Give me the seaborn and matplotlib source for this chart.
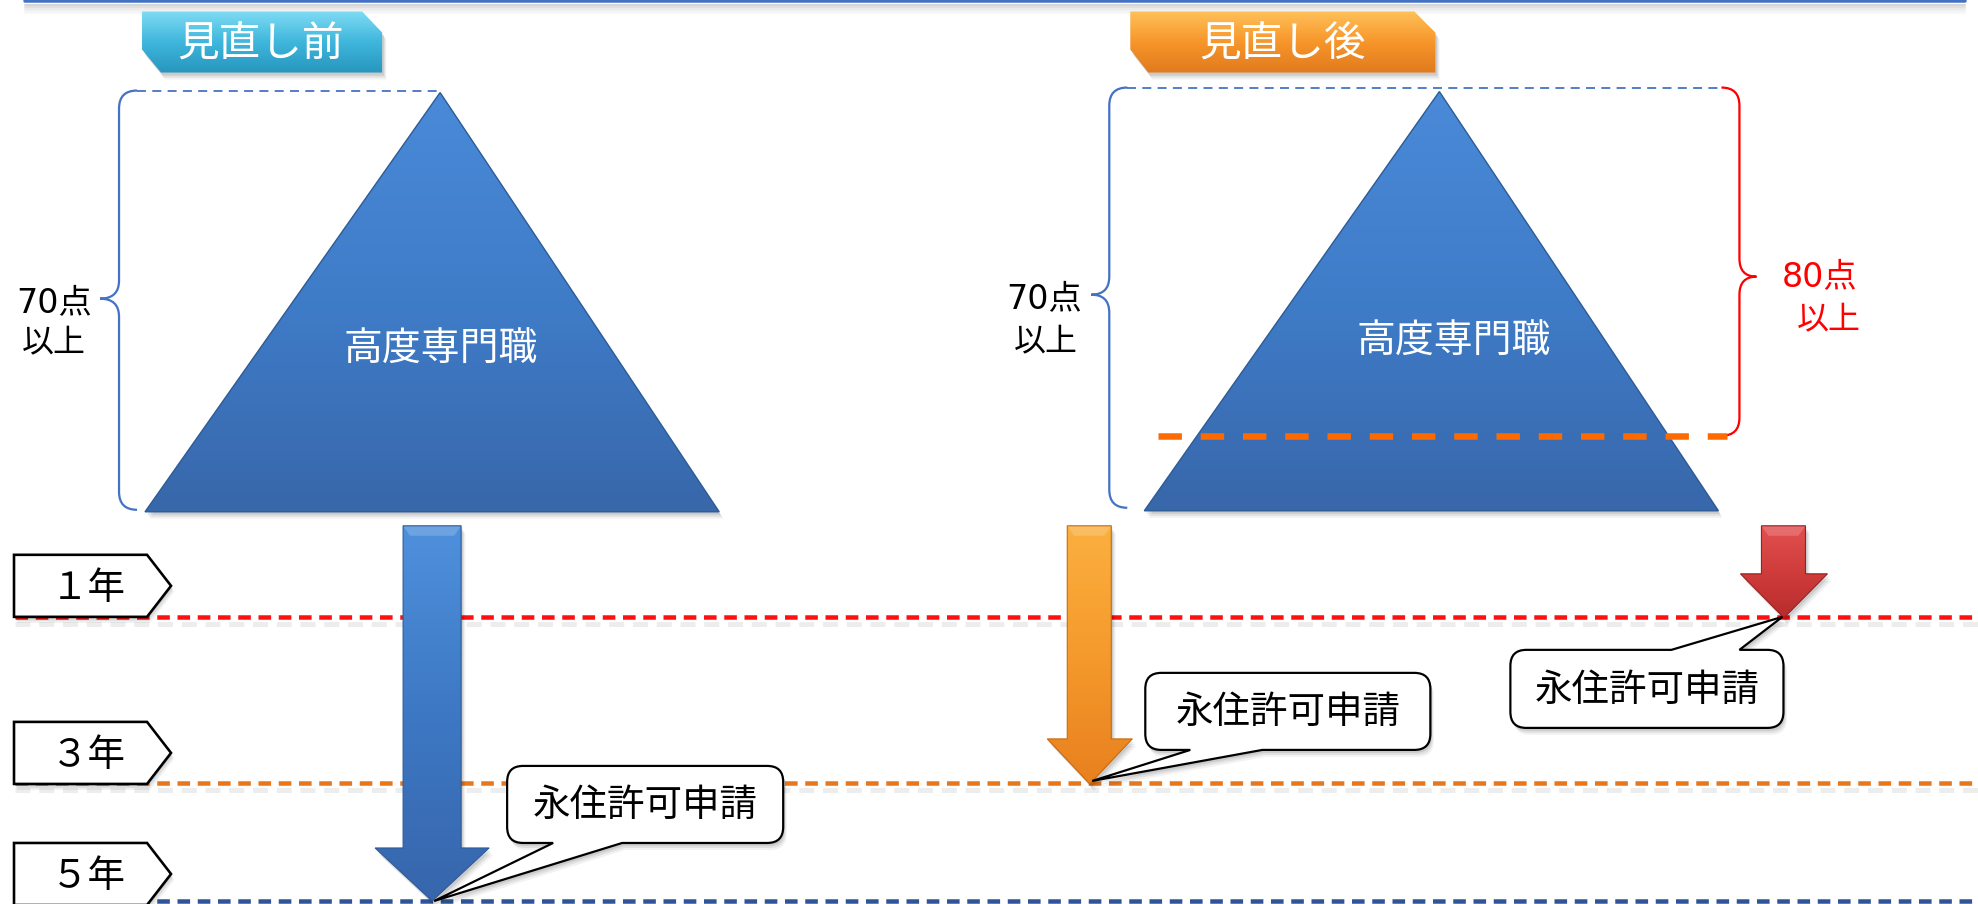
import numpy as np
import matplotlib
matplotlib.use("Agg")
import matplotlib.pyplot as plt
import seaborn as sns
from matplotlib.path import Path
from matplotlib.patches import PathPatch, Polygon
from matplotlib.colors import LinearSegmentedColormap

# ---------------- data ----------------
panel_titles = ["見直し前", "見直し後"]
pyramid_label = "高度専門職"
threshold_points = ["70点", "70点", "80点"]
threshold_suffix = "以上"
year_labels = ["１年", "３年", "５年"]
year_values = [1, 3, 5]
apply_years = [5, 3, 1]          # before(70pt), after(70pt), after(80pt)
callout_text = "永住許可申請"

# ---------------- layout (pixel canvas) ----------------
W, H, DPI = 1978, 904, 100
PX = 72.0 / DPI
year_y = {1: 617, 3: 783, 5: 901}
year_colors = {1: "#ff1010", 3: "#e8761a", 5: "#2f5597"}

sns.set_theme(style="white")
plt.rcParams["font.family"] = ["Noto Sans CJK JP", "DejaVu Sans"]
DIGIT_FAMILY = ["DejaVu Sans", "Noto Sans CJK JP"]

fig = plt.figure(figsize=((W + 0.5) / DPI, (H + 0.5) / DPI), dpi=DPI)
ax = fig.add_axes([0, 0, 1, 1])
ax.set_facecolor("white")


def grad_poly(verts, colors, z, edge=None, elw=1.0, shadow=True):
    verts = np.asarray(verts, float)
    if shadow:
        for k, a in [(7, 0.05), (5, 0.07), (3, 0.09)]:
            ax.add_patch(Polygon(verts + [k * 0.6, k], closed=True, fc="#000000",
                                 ec="none", alpha=a, zorder=z - 0.2))
    poly = Polygon(verts, closed=True, fc="none", ec=edge if edge else "none",
                   lw=elw, zorder=z + 0.1)
    ax.add_patch(poly)
    cmap = LinearSegmentedColormap.from_list("g", colors)
    g = np.linspace(0, 1, 256).reshape(-1, 1)
    x0, x1 = verts[:, 0].min(), verts[:, 0].max()
    y0, y1 = verts[:, 1].min(), verts[:, 1].max()
    im = ax.imshow(g, cmap=cmap, extent=(x0, x1, y1, y0), aspect="auto",
                   zorder=z, interpolation="bilinear")
    im.set_clip_path(poly)
    return poly


def down_arrow(xs0, xs1, ytop, yhead, xh0, xh1, ytip, colors, edge, z=5):
    xc = (xh0 + xh1) / 2
    v = [(xs0, ytop), (xs1, ytop), (xs1, yhead), (xh1, yhead), (xc, ytip),
         (xh0, yhead), (xs0, yhead)]
    grad_poly(v, colors, z, edge=edge, elw=0.8)
    ax.add_patch(Polygon([(xs0, ytop), (xs1, ytop), (xs1 - 7, ytop + 10), (xs0 + 7, ytop + 10)],
                         closed=True, fc="white", ec="none", alpha=0.18, zorder=z + 0.05))


def brace(xv, y0, y1, xt, yt, color, r=18, lw=1.6):
    s = np.sign(xt - xv)
    e = -s
    verts = [(xv + e * r, y0), (xv, y0), (xv, y0 + r),
             (xv, yt - r), (xv, yt), (xt, yt),
             (xv, yt), (xv, yt + r),
             (xv, y1 - r), (xv, y1), (xv + e * r, y1)]
    codes = [Path.MOVETO, Path.CURVE3, Path.CURVE3,
             Path.LINETO, Path.CURVE3, Path.CURVE3,
             Path.CURVE3, Path.CURVE3,
             Path.LINETO, Path.CURVE3, Path.CURVE3]
    ax.add_patch(PathPatch(Path(verts, codes), fc="none", ec=color, lw=lw * PX * 1.4, zorder=3))


def callout(x0, y0, x1, y1, tail_side, tb0, tb1, tip, text, r=16):
    v, c = [], []
    v += [(x0 + r, y0)]; c += [Path.MOVETO]
    if tail_side == "top":
        v += [(tb0, y0), tip, (tb1, y0)]; c += [Path.LINETO] * 3
    v += [(x1 - r, y0), (x1, y0), (x1, y0 + r)]; c += [Path.LINETO, Path.CURVE3, Path.CURVE3]
    v += [(x1, y1 - r), (x1, y1), (x1 - r, y1)]; c += [Path.LINETO, Path.CURVE3, Path.CURVE3]
    if tail_side == "bottom":
        v += [(tb1, y1), tip, (tb0, y1)]; c += [Path.LINETO] * 3
    v += [(x0 + r, y1), (x0, y1), (x0, y1 - r)]; c += [Path.LINETO, Path.CURVE3, Path.CURVE3]
    v += [(x0, y0 + r), (x0, y0), (x0 + r, y0)]; c += [Path.LINETO, Path.CURVE3, Path.CURVE3]
    v += [(x0 + r, y0)]; c += [Path.CLOSEPOLY]
    path = Path(v, c)
    for k, a in [(7, 0.05), (5, 0.07), (3, 0.09)]:
        sv = np.asarray(v) + [k * 0.5, k]
        ax.add_patch(PathPatch(Path(sv, c), fc="black", ec="none", alpha=a, zorder=7.8))
    ax.add_patch(PathPatch(path, fc="white", ec="black", lw=2.2 * PX, zorder=8, joinstyle="miter"))
    ax.text((x0 + x1) / 2, (y0 + y1) / 2 + 1, text, ha="center", va="center",
            fontsize=27, color="black", zorder=9)


# ---------------- top header edge ----------------
for k, a in enumerate([0.16, 0.12, 0.08, 0.05, 0.03]):
    ax.plot([25, 1965], [5 + 2 * k, 5 + 2 * k], color="black", alpha=a, lw=2 * PX, zorder=1)
ax.plot([25, 1965], [1.5, 1.5], color="#4472c4", lw=3.5 * PX, solid_capstyle="round", zorder=2)

# ---------------- year lines (seaborn) ----------------
for yv in year_values:
    yy = year_y[yv]
    ax.plot([15, W], [yy + 7, yy + 7], color="black", alpha=0.07, lw=5 * PX,
            linestyle=(0, (3, 1.75)), zorder=1)
    sns.lineplot(x=[15, W], y=[yy, yy], ax=ax, color=year_colors[yv],
                 lw=4.5 * PX, linestyle=(0, (2.8, 1.7)), zorder=2, legend=False)

# ---------------- year pentagon labels ----------------
box_top = {1: 555, 3: 722, 5: 843}
for lab, yv in zip(year_labels, year_values):
    t = box_top[yv]
    b = t + 62
    v = np.array([(14, t), (147, t), (171, (t + b) / 2), (147, b), (14, b)])
    for k, a in [(6, 0.06), (4, 0.08), (2, 0.1)]:
        ax.add_patch(Polygon(v + [k * 0.5, k], closed=True, fc="black", ec="none", alpha=a, zorder=3))
    ax.add_patch(Polygon(v, closed=True, fc="white", ec="black", lw=2.6 * PX, zorder=4, joinstyle="miter"))
    ax.text(88, (t + b) / 2 + 2, lab, ha="center", va="center", fontsize=27, color="black", zorder=5)

# ---------------- panel title tabs ----------------
tabs = [(142, 382, 362, 161, ["#7fdcf4", "#3fb6dc", "#2796bd"], 261),
        (1130, 1435, 1414, 1148, ["#ffc15a", "#f7962a", "#e07a1e"], 1282)]
for title, (x0, x1, xc1, xc2, cols, tx) in zip(panel_titles, tabs):
    v = [(x0, 12), (xc1, 12), (x1, 33), (x1, 73), (xc2, 73), (x0, 50)]
    grad_poly(v, cols, 3, edge=None)
    ax.text(tx, 45, title, ha="center", va="center", fontsize=30, color="white", zorder=4)

# ---------------- pyramids ----------------
tri_cols = ["#4a8ad8", "#3f7cc8", "#3867aa"]
grad_poly([(440, 93), (719, 512), (145, 512)], tri_cols, 3, edge="#2d5b96", elw=1.0)
grad_poly([(1439, 92), (1718, 511), (1144, 511)], tri_cols, 3, edge="#2d5b96", elw=1.0)
ax.text(441, 350, pyramid_label, ha="center", va="center", fontsize=28, color="white", zorder=4)
ax.text(1453, 342, pyramid_label, ha="center", va="center", fontsize=28, color="white", zorder=4)

# brackets and dashed guide lines
ax.plot([137, 440], [91, 91], color="#4472c4", lw=1.8 * PX, linestyle=(0, (5, 3.5)), zorder=2)
brace(119, 91, 510, 100, 299, "#4472c4")
ax.plot([1127, 1722], [88, 88], color="#4472c4", lw=1.8 * PX, linestyle=(0, (5, 3.5)), zorder=2)
brace(1109, 88, 508, 1091, 295, "#4472c4")
brace(1739, 88, 436, 1756, 277, "#ff0000")
ax.plot([1158, 1727], [436, 436], color="#ff6a00", lw=6.5 * PX, linestyle=(0, (3.6, 2.9)),
        zorder=5, solid_capstyle="butt", dash_capstyle="butt")

# threshold texts
thr_pos = [(54, 302, 54, 343, "black"), (1044, 298, 1046, 342, "black"),
           (1819, 277, 1828, 320, "#ff0000")]
for lab, (x1_, y1_, x2_, y2_, col) in zip(threshold_points, thr_pos):
    ax.text(x1_, y1_, lab, ha="center", va="center", fontsize=24, color=col, zorder=5,
            family=DIGIT_FAMILY)
    ax.text(x2_, y2_, threshold_suffix, ha="center", va="center", fontsize=23, color=col, zorder=5)

# ---------------- arrows ----------------
arrow_specs = [
    (403, 461, 375, 489, 848, ["#4f90dc", "#3d78c4", "#3766ac"], "#2d5b96"),
    (1067, 1111, 1047, 1132, 739, ["#fbb040", "#f59a2c", "#e8801e"], "#c86a10"),
    (1761, 1805, 1740, 1827, 574, ["#e25050", "#d03c3c", "#b82c2c"], "#9a2020"),
]
for yr, (s0, s1, h0, h1, yh, cols, ec) in zip(apply_years, arrow_specs):
    down_arrow(s0, s1, 526, yh, h0, h1, year_y[yr] + (1 if yr != 5 else 0), cols, ec)

# ---------------- callouts ----------------
callout(507, 766, 783, 843, "bottom", 553, 622, (434, year_y[apply_years[0]]), callout_text)
callout(1145, 673, 1430, 750, "bottom", 1190, 1262, (1092, year_y[apply_years[1]] - 2), callout_text)
callout(1510, 650, 1783, 728, "top", 1671, 1739, (1782, year_y[apply_years[2]]), callout_text)

ax.set_xlim(0, W)
ax.set_ylim(H, 0)
ax.axis("off")
fig.savefig("out.png", dpi=DPI, facecolor="white")
